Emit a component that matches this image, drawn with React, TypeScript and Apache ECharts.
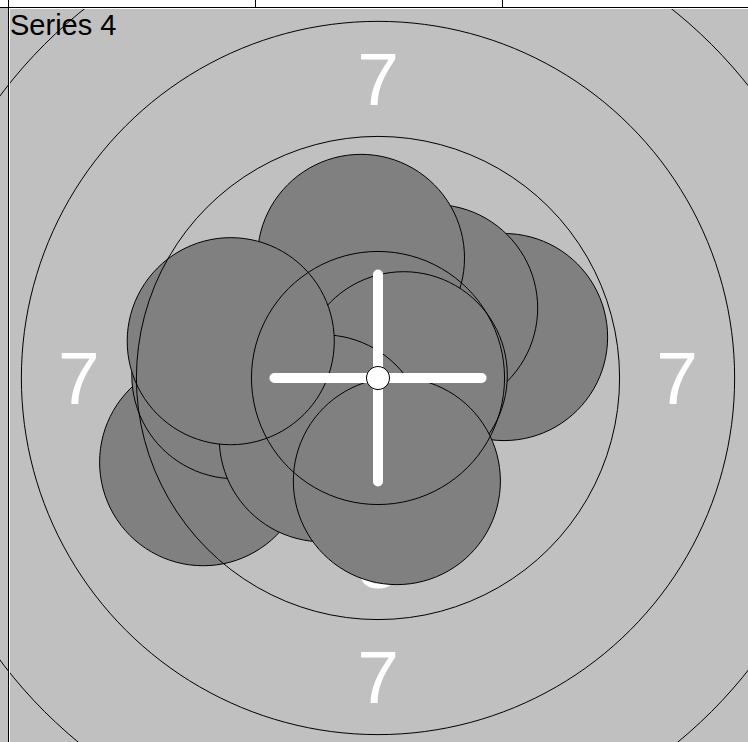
import React, { useEffect, useRef } from 'react';
import * as echarts from 'echarts';

// Target geometry (millimetres, ISSF 10 m air rifle style)
const ringRadii = [2.75, 5.25, 7.75, 10.25];
const tenRingRadius = 0.25;
const ringLabelText = ['7', '7', '7', '7', '8', '8', '8', '8'];
const ringLabelX = [0, 0, -6.5, 6.5, 0, 0, -4, 4];
const ringLabelY = [6.5, -6.5, 0, 0, 4, -4, 0, 0];

// Shots (centre coordinates in mm), in drawing order
const shotX = [2.74, 1.22, -0.37, 0.56, -3.8, -3.1, -1.2, -3.2, 0.41];
const shotY = [0.89, 1.52, 2.61, 0.06, -1.83, 0.06, -1.31, 0.8, -2.24];
const shotRadius = 2.25;
const crossHalf = 2.25;
const axisExtent = 7.91;
const seriesTitle = 'Series 4';

const FONT = '"Liberation Sans", Arial, sans-serif';

export default function App() {
  const ref = useRef<HTMLDivElement>(null);
  useEffect(() => {
    if (!ref.current) return;
    const chart = echarts.init(ref.current, undefined, { renderer: 'svg' });

    const labelData = ringLabelText.map((t, i) => [ringLabelX[i], ringLabelY[i], t]);
    const shotData = shotX.map((x, i) => [x, shotY[i], shotRadius]);
    const ringData = ringRadii.map((r) => [0, 0, r]);

    const option: any = {
      animation: false,
      backgroundColor: '#c0c0c0',
      title: {
        text: seriesTitle,
        left: 10,
        top: 10,
        padding: 0,
        textStyle: { fontFamily: FONT, fontSize: 29, fontWeight: 'normal', color: '#000' },
      },
      grid: { left: 14, top: 14, width: 728, height: 728 },
      xAxis: { type: 'value', min: -axisExtent, max: axisExtent, show: false },
      yAxis: { type: 'value', min: -axisExtent, max: axisExtent, show: false },
      series: [
        {
          type: 'custom',
          name: 'labels',
          z: 1,
          clip: false,
          silent: true,
          data: labelData,
          renderItem: (params: any, api: any) => {
            const p = api.coord([api.value(0), api.value(1)]);
            return {
              type: 'text',
              x: p[0],
              y: p[1],
              style: {
                text: String(labelData[params.dataIndex][2]),
                fill: '#ffffff',
                fontSize: 75,
                fontFamily: FONT,
                align: 'center',
                verticalAlign: 'middle',
              },
            };
          },
        },
        {
          type: 'custom',
          name: 'shots',
          z: 2,
          clip: false,
          silent: true,
          data: shotData,
          renderItem: (params: any, api: any) => {
            const p = api.coord([api.value(0), api.value(1)]);
            const r = api.size([api.value(2), 0])[0];
            return {
              type: 'circle',
              shape: { cx: p[0], cy: p[1], r },
              style: { fill: '#808080', stroke: '#000000', lineWidth: 1 },
            };
          },
        },
        {
          type: 'custom',
          name: 'rings',
          z: 3,
          clip: false,
          silent: true,
          data: ringData,
          renderItem: (params: any, api: any) => {
            const p = api.coord([api.value(0), api.value(1)]);
            const r = api.size([api.value(2), 0])[0];
            return {
              type: 'circle',
              shape: { cx: p[0], cy: p[1], r },
              style: { fill: 'none', stroke: '#000000', lineWidth: 1 },
            };
          },
        },
        {
          type: 'custom',
          name: 'crosshair',
          z: 4,
          clip: false,
          silent: true,
          data: [[0, 0]],
          renderItem: (params: any, api: any) => {
            const c = api.coord([0, 0]);
            const l = api.coord([-crossHalf, 0]);
            const r = api.coord([crossHalf, 0]);
            const t = api.coord([0, crossHalf]);
            const b = api.coord([0, -crossHalf]);
            const dot = api.size([tenRingRadius, 0])[0];
            const lineStyle = { stroke: '#ffffff', lineWidth: 10, lineCap: 'round' };
            return {
              type: 'group',
              children: [
                { type: 'line', shape: { x1: l[0], y1: l[1], x2: r[0], y2: r[1] }, style: lineStyle },
                { type: 'line', shape: { x1: t[0], y1: t[1], x2: b[0], y2: b[1] }, style: lineStyle },
                {
                  type: 'circle',
                  shape: { cx: c[0], cy: c[1], r: dot },
                  style: { fill: '#ffffff', stroke: '#000000', lineWidth: 1 },
                },
              ],
            };
          },
        },
      ],
      graphic: [
        { type: 'rect', z: 100, shape: { x: 0, y: 0, width: 748, height: 7 }, style: { fill: '#ffffff' } },
        { type: 'line', z: 101, shape: { x1: 0, y1: 7.5, x2: 748, y2: 7.5 }, style: { stroke: '#000000', lineWidth: 1 } },
        { type: 'line', z: 101, shape: { x1: 9, y1: 8.5, x2: 748, y2: 8.5 }, style: { stroke: '#ffffff', lineWidth: 1 } },
        { type: 'line', z: 101, shape: { x1: 8.5, y1: 0, x2: 8.5, y2: 742 }, style: { stroke: '#000000', lineWidth: 1 } },
        { type: 'line', z: 101, shape: { x1: 9.5, y1: 8, x2: 9.5, y2: 742 }, style: { stroke: '#ffffff', lineWidth: 1 } },
        { type: 'line', z: 101, shape: { x1: 255.5, y1: 0, x2: 255.5, y2: 7 }, style: { stroke: '#000000', lineWidth: 1 } },
        { type: 'line', z: 101, shape: { x1: 502.5, y1: 0, x2: 502.5, y2: 7 }, style: { stroke: '#000000', lineWidth: 1 } },
      ],
    };
    chart.setOption(option);
    return () => chart.dispose();
  }, []);
  return (
    <div
      ref={ref}
      style={{ position: 'absolute', left: 0, top: 0, width: 748, height: 742 }}
    />
  );
}
